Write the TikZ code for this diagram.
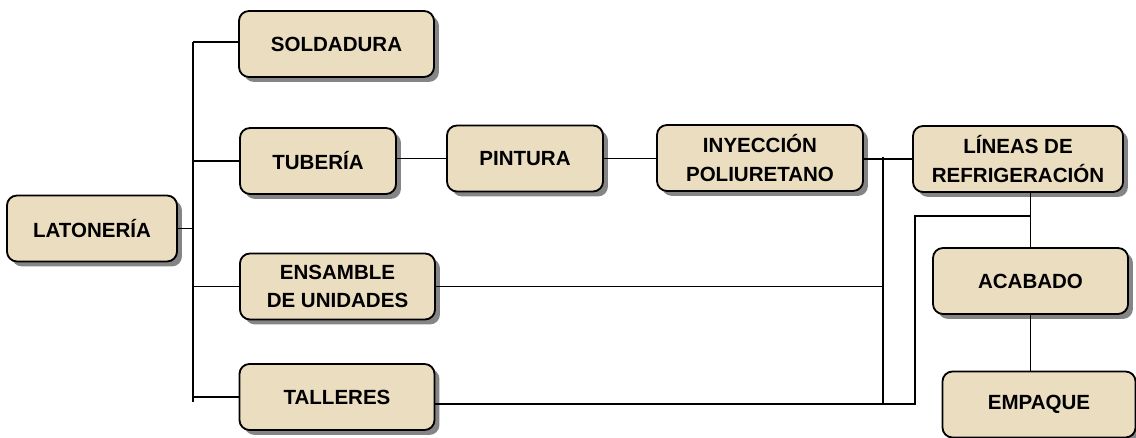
\documentclass[tikz,border=0pt]{standalone}
\usepackage{fontspec}
\setmainfont{Liberation Sans}
\usepackage{tikz}
\usetikzlibrary{shadows}

\definecolor{parchment}{RGB}{235,221,192}

\begin{document}
\begin{tikzpicture}[
    x=0.025cm, y=-0.025cm,
    box/.style={draw=black, line width=1.3pt, rounded corners=0.25cm,
        fill=parchment, align=center, inner sep=2pt,
        minimum height=1.65cm,
        font=\fontsize{14.6}{20}\selectfont\bfseries,
        drop shadow={shadow xshift=3.5pt, shadow yshift=-3.5pt,
            fill=black!60, opacity=.8}},
    link/.style={line width=1.2pt, black}
]
    \useasboundingbox (0,0) rectangle (1136,438);

    % left column
    \node[box, minimum width=4.25cm] (lat) at (92,228.5) {LATONERÍA};
    \node[box, minimum width=4.875cm] (sold) at (336.5,44) {SOLDADURA};
    \node[box, minimum width=3.9cm] (tub) at (318,161) {TUBERÍA};
    \node[box, minimum width=4.875cm] (ens) at (337.5,286.5) {ENSAMBLE\\DE UNIDADES};
    \node[box, minimum width=4.875cm] (tal) at (337,397) {TALLERES};

    % tuberia line
    \node[box, minimum width=3.9cm] (pint) at (525,158.5) {PINTURA};
    \node[box, minimum width=5.15cm] (iny) at (760,158) {INYECCIÓN\\POLIURETANO};
    \node[box, minimum width=5.25cm] (lin) at (1018,159) {LÍNEAS DE\\REFRIGERACIÓN};

    % right column
    \node[box, minimum width=4.875cm] (aca) at (1030.5,281) {ACABADO};
    \node[box, minimum width=4.825cm] (emp) at (1039,404.5) {EMPAQUE};

    \coordinate (trunktop) at (193,42);
    \coordinate (trunkbot) at (193,402);
    \coordinate (bartop) at (883,157);
    \coordinate (barbot) at (883,405);
    \coordinate (ret) at (915,404);
    \coordinate (retup) at (915,216);

    \draw[link] (trunktop) -- (trunkbot);
    \draw[link] (lat.east) -- (lat.east -| trunktop);
    \draw[link] (sold.west |- trunktop) -- (trunktop);
    \draw[link] (tub.west) -- (tub.west -| trunktop);
    \draw[link] (ens.west) -- (ens.west -| trunktop);
    \draw[link] (tal.west) -- (tal.west -| trunktop);

    \draw[link] (tub.east |- pint.west) -- (pint.west);
    \draw[link] (pint.east) -- (pint.east -| iny.west);
    \draw[link] (iny.east |- lin.west) -- (lin.west);

    \draw[link] (bartop) -- (barbot);
    \draw[link] (ens.east) -- (ens.east -| barbot);
    \draw[link] (tal.east |- ret) -- (ret) -- (retup) -- (retup -| aca.north);
    \draw[link] (aca.north |- lin.south) -- (aca.north);
    \draw[link] (aca.south) -- (aca.south |- emp.north);
\end{tikzpicture}
\end{document}
